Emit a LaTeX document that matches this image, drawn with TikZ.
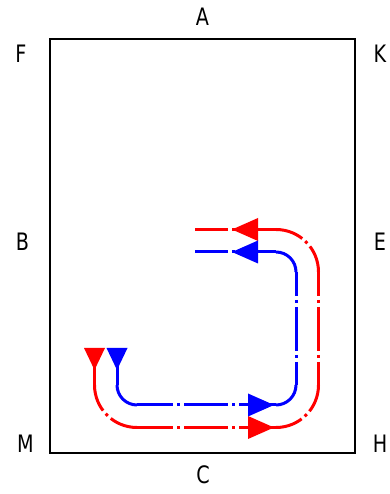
\documentclass[tikz,border=0pt]{standalone}
\usepackage{fontspec}
\newfontfamily\labelfont[FakeStretch=0.8]{DejaVu Sans}
\usetikzlibrary{arrows.meta}

\tikzset{
  boxline/.style={draw=black, line width=2pt},
  flowline/.style={line width=3pt},
  dashdot/.style={flowline, dash pattern=on 44pt off 4pt on 3pt off 4pt},
  headh/.style={line width=3pt, -{Triangle[length=26pt, width=23pt, line width=0pt]}},
  headv/.style={line width=3pt, -{Triangle[length=22pt, width=21pt, line width=0pt]}},
}

\begin{document}
\begin{tikzpicture}[x=1pt, y=1pt, every node/.style={font=\labelfont\fontsize{24}{24}\selectfont, inner sep=0pt}]
  \useasboundingbox (0,0) rectangle (389,494);
  \draw[boxline] (50,41) rectangle (355,455);

  \node (A) at (202.5,477.5) {A};
  \node (F) at (21,440.5) {F};
  \node (K) at (380,440.5) {K};
  \node (B) at (22.5,252.5) {B};
  \node (E) at (380,252.5) {E};
  \node (M) at (25.5,50) {M};
  \node (H) at (380,50) {H};
  \node (C) at (203,19) {C};

  % outer loop
  \coordinate (r1) at (195,264.5);
  \coordinate (r2) at (276,264.5);
  \coordinate (r3) at (318.5,222);
  \coordinate (r4) at (318.5,109);
  \coordinate (r5) at (276,66.5);
  \coordinate (r6) at (137,66.5);
  \coordinate (r7) at (94.5,109);
  \coordinate (r8) at (94.5,146);
  \begin{scope}[draw=red, red]
    \draw[dashdot, dash phase=11pt] (r1) -- (r2);
    \draw[dashdot, dash phase=15.75pt] (r2) arc[start angle=90, end angle=0, radius=42.5pt];
    \draw[dashdot, dash phase=20pt] (r3) -- (r4);
    \draw[dashdot, dash phase=15.75pt] (r4) arc[start angle=0, end angle=-90, radius=42.5pt];
    \draw[dashdot, dash phase=8pt] (r6) -- (r5);
    \draw[dashdot, dash phase=15.75pt] (r6) arc[start angle=-90, end angle=-180, radius=42.5pt];
    \draw[flowline] (r7) -- (r8);
    \draw[headh] (258,264.5) -- (232,264.5);
    \draw[headh] (248,66.5) -- (274,66.5);
    \draw[headv] (r8) -- (94.5,124);
  \end{scope}

  % inner loop
  \coordinate (b1) at (195,242);
  \coordinate (b2) at (276,242);
  \coordinate (b3) at (296,222);
  \coordinate (b4) at (296,109);
  \coordinate (b5) at (276,89);
  \coordinate (b6) at (137,89);
  \coordinate (b7) at (117,109);
  \coordinate (b8) at (117,146);
  \begin{scope}[draw=blue, blue]
    \draw[dashdot, dash phase=11pt] (b1) -- (b2);
    \draw[flowline] (b2) arc[start angle=90, end angle=0, radius=20pt];
    \draw[dashdot, dash phase=20pt] (b3) -- (b4);
    \draw[flowline] (b4) arc[start angle=0, end angle=-90, radius=20pt];
    \draw[dashdot, dash phase=8pt] (b6) -- (b5);
    \draw[flowline] (b6) arc[start angle=-90, end angle=-180, radius=20pt];
    \draw[flowline] (b7) -- (b8);
    \draw[headh] (258,242) -- (232,242);
    \draw[headh] (248,89) -- (274,89);
    \draw[headv] (b8) -- (117,124);
  \end{scope}
\end{tikzpicture}
\end{document}
